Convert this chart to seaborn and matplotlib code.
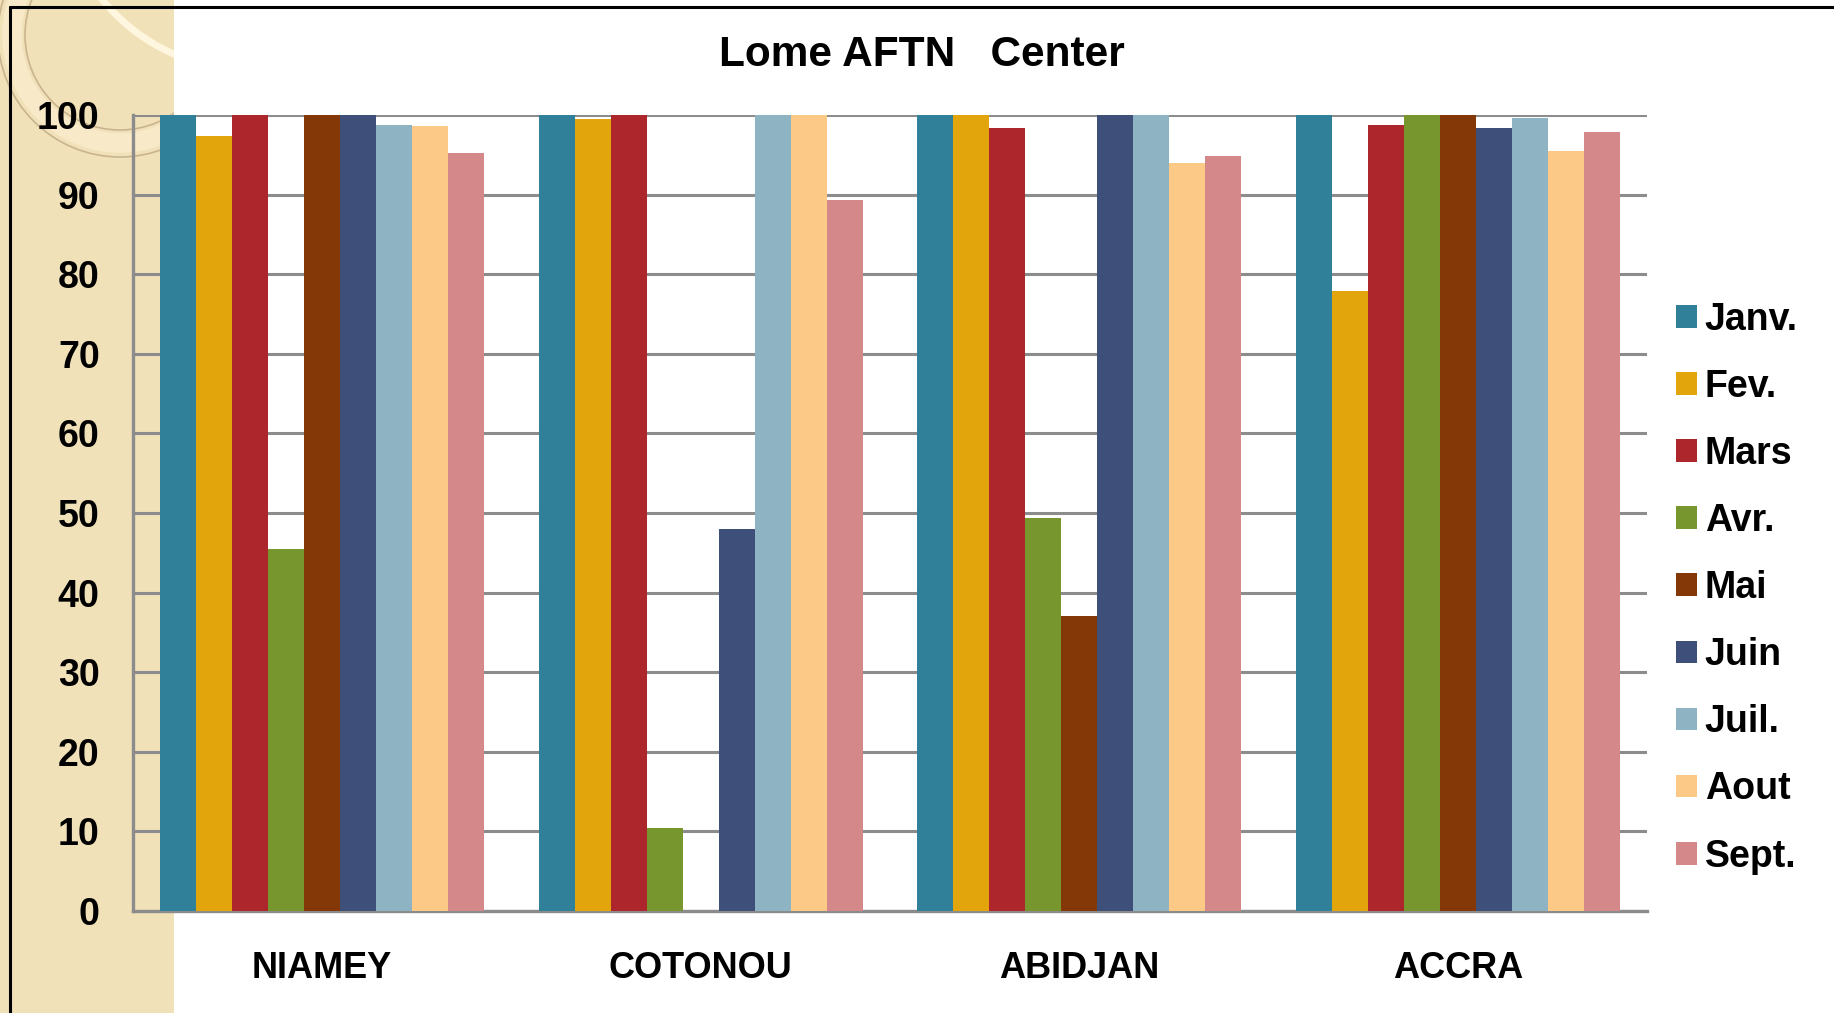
import numpy as np
import pandas as pd
import matplotlib
matplotlib.use("Agg")
import matplotlib.pyplot as plt
from matplotlib.patches import Rectangle, Circle
from matplotlib.lines import Line2D
import seaborn as sns

# ---- data ----
stations = ["NIAMEY", "COTONOU", "ABIDJAN", "ACCRA"]
months = ["Janv.", "Fev.", "Mars", "Avr.", "Mai", "Juin", "Juil.", "Aout", "Sept."]
janv = [100, 100, 100, 100]
fev = [97.3, 99.5, 100, 77.9]
mars = [100, 100, 98.4, 98.7]
avr = [45.5, 10.4, 49.4, 100]
mai = [100, 0, 37.0, 100]
juin = [100, 48.0, 100, 98.4]
juil = [98.7, 100, 100, 99.6]
aout = [98.6, 100, 94.0, 95.5]
sept = [95.2, 89.3, 94.8, 97.9]
yticks = list(range(0, 101, 10))
title = "Lome AFTN   Center"

colors = ["#31809A", "#E2A50B", "#AC262B", "#77962E", "#843807",
          "#3E4F7A", "#8EB3C2", "#FDC986", "#D4888A"]

series = [janv, fev, mars, avr, mai, juin, juil, aout, sept]
rows = []
for m, vals in zip(months, series):
    for s, v in zip(stations, vals):
        rows.append({"station": s, "month": m, "value": v})
df = pd.DataFrame(rows)

sns.set_theme(style="white")
plt.rcParams["font.family"] = ["Liberation Sans", "DejaVu Sans"]
plt.rcParams["font.weight"] = "bold"
plt.rcParams["text.color"] = "black"
plt.rcParams["xtick.color"] = "black"
plt.rcParams["ytick.color"] = "black"
plt.rcParams["axes.labelcolor"] = "black"

W, H = 1834, 1013
fig = plt.figure(figsize=(W / 100, H / 100), dpi=100)
fig.patch.set_facecolor("white")

# decorative beige strip on the left (behind everything)
fig.add_artist(Rectangle((0, 0), 174 / W, 1, transform=fig.transFigure,
                         facecolor="#F1E1B9", edgecolor="none", zorder=-3))
strip = Rectangle((0, 0), 174 / W, 1, transform=fig.transFigure, facecolor="none", edgecolor="none")
for r, lw, col in [(108, 14, "#F8E9C8"), (95, 1.2, "#C9B48F"), (122, 1.2, "#C9B48F")]:
    c = Circle((120, H - 35), r, transform=None, facecolor="none", edgecolor=col,
               linewidth=lw, zorder=-2)
    c.set_clip_path(strip)
    fig.add_artist(c)
arc = Circle((250, H + 120), 190, transform=None, facecolor="none", edgecolor="#FFF6E0",
             linewidth=5, zorder=-1.5)
arc.set_clip_path(strip)
fig.add_artist(arc)

# black frame lines
fig.add_artist(Line2D([10 / W, 10 / W], [0, 1 - 7 / H], transform=fig.transFigure,
                      color="black", linewidth=2.2, zorder=-1))
fig.add_artist(Line2D([10 / W, 1], [1 - 7 / H, 1 - 7 / H], transform=fig.transFigure,
                      color="black", linewidth=2.2, zorder=-1))

ax = fig.add_axes([133 / W, 1 - 911 / H, (1647 - 133) / W, (911 - 115) / H])
ax.patch.set_alpha(0)

sns.barplot(data=df, x="station", y="value", hue="month", order=stations,
            hue_order=months, palette=colors, saturation=1, width=0.855,
            linewidth=0, ax=ax, zorder=3, legend=True)

ax.set_ylim(0, 100)
ax.set_xlim(-0.5, 3.5)
ax.set_yticks(yticks)
ax.set_yticklabels([str(t) for t in yticks], fontsize=27, fontweight="bold")
ax.set_xticks(range(len(stations)))
ax.set_xticklabels(stations, fontsize=26, fontweight="bold")
ax.tick_params(axis="y", length=0, pad=24)
ax.tick_params(axis="x", length=0, pad=29)
ax.set_xlabel("")
ax.set_ylabel("")
ax.yaxis.grid(True, color="#8C8C8C", linewidth=2.2, zorder=0)
ax.set_axisbelow(True)
for side in ["top", "right"]:
    ax.spines[side].set_visible(False)
for side in ["left", "bottom"]:
    ax.spines[side].set_color("#8C8C8C")
    ax.spines[side].set_linewidth(2.4)

handles, labels = ax.get_legend_handles_labels()
ax.legend_.remove()
fig.legend(handles, labels, loc="center left", bbox_to_anchor=(1676 / W, 1 - 588 / H),
           bbox_transform=fig.transFigure, frameon=False, borderpad=0, borderaxespad=0,
           handlelength=0.55, handleheight=0.55, handletextpad=0.22, labelspacing=0.83,
           prop={"size": 27, "weight": "bold"})

fig.text(922 / W, 1 - 55 / H, title, ha="center", va="center",
         fontsize=30.5, fontweight="bold")

fig.savefig("out.png", dpi=100, facecolor=fig.get_facecolor())
